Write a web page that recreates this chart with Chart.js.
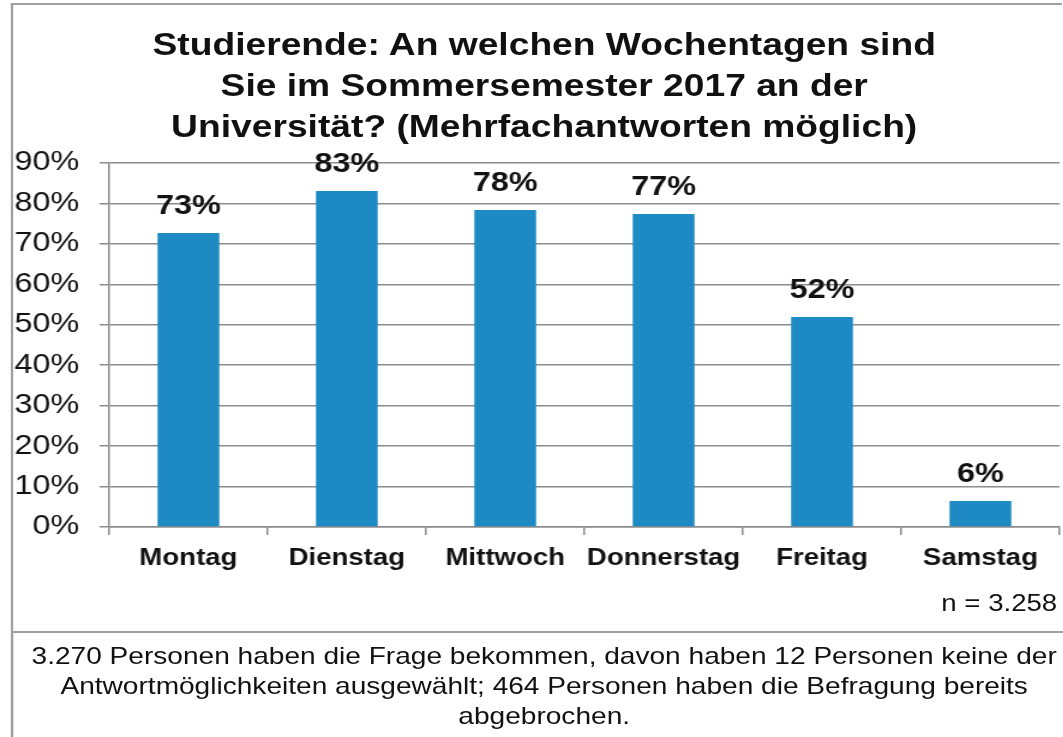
<!DOCTYPE html>
<html>
<head>
<meta charset="utf-8">
<script src="https://cdn.jsdelivr.net/npm/chart.js@4"></script>
<style>
  body { margin: 0; background: #fff; overflow: hidden; }
  /* the reference is stretched sideways, so draw narrow and scale it */
  #page { position: absolute; left: 0; top: 0; width: 886px; height: 737px;
          transform: scaleX(1.2); transform-origin: 0 0; font-family: "Liberation Sans", Arial, sans-serif; }
  #frame { position: absolute; left: 9px; top: 3px; width: 874px; height: 734px;
           border-top: 2px solid #a0a0a0; border-left: 2px solid #a0a0a0; }
  #chartBox { position: absolute; left: 0; top: 0; width: 886px; height: 632px; }
  #title { position: absolute; left: 0; top: 24px; width: 907px; text-align: center;
           font-size: 31px; font-weight: bold; line-height: 41px; color: #111; }
  #nInfo { position: absolute; right: 5px; top: 590px; font-size: 23px; color: #111; }
  #note { position: absolute; left: 9px; top: 631px; width: 877px; height: 106px;
          border-top: 2px solid #a0a0a0; border-left: 2px solid #a0a0a0;
          text-align: center; font-size: 23.4px; line-height: 30px; color: #111;
          padding-top: 8px; padding-left: 10px; box-sizing: border-box; }
</style>
</head>
<body>
<div id="page">
  <div id="frame"></div>
  <div id="chartBox"><canvas id="chart"></canvas></div>
  <div id="title"></div>
  <div id="nInfo">n = 3.258</div>
  <div id="note">3.270 Personen haben die Frage bekommen, davon haben 12 Personen keine der<br>Antwortmöglichkeiten ausgewählt; 464 Personen haben die Befragung bereits<br>abgebrochen.</div>
</div>
<script>
var days = ['Montag', 'Dienstag', 'Mittwoch', 'Donnerstag', 'Freitag', 'Samstag'];
var shares = [72.7, 83.1, 78.4, 77.4, 51.9, 6.4];
var titleLines = [
	'Studierende: An welchen Wochentagen sind',
	'Sie im Sommersemester 2017 an der',
	'Universität? (Mehrfachantworten möglich)'
];
var yMin = 0;
var yMax = 90;
var yStep = 10;

var fontName = '"Liberation Sans", Arial, sans-serif';
var gridGrey = '#8c8c8c';

document.getElementById('title').innerHTML = titleLines.join('<br>');

// prints the rounded share above each bar
var valueLabels = {
	id: 'valueLabels',
	afterDatasetsDraw: function(chart) {
		var ctx = chart.ctx;
		var meta = chart.getDatasetMeta(0);
		ctx.save();
		ctx.font = 'bold 27px ' + fontName;
		ctx.fillStyle = '#111';
		ctx.textAlign = 'center';
		ctx.textBaseline = 'alphabetic';
		meta.data.forEach(function(bar, i) {
			ctx.fillText(Math.round(shares[i]) + '%', bar.x, bar.y - 19);
		});
		ctx.restore();
	}
};

var ctx = document.getElementById('chart');
new Chart(ctx, {
	type: 'bar',
	data: {
		labels: days,
		datasets: [{
			data: shares,
			backgroundColor: '#1e8ac4',
			barPercentage: 0.39,
			categoryPercentage: 1
		}]
	},
	options: {
		responsive: true,
		maintainAspectRatio: false,
		animation: false,
		layout: { padding: { left: 4, right: 3, top: 163, bottom: 0 } },
		plugins: {
			legend: { display: false },
			tooltip: { enabled: false },
			title: { display: false }
		},
		scales: {
			x: {
				grid: { drawOnChartArea: false, drawTicks: true, tickLength: 8, color: gridGrey, lineWidth: 1.5 },
				border: { color: gridGrey, width: 1.5 },
				ticks: {
					color: '#111',
					padding: 10,
					maxRotation: 0,
					minRotation: 0,
					autoSkip: false,
					font: { family: fontName, size: 23, weight: 'bold' }
				},
				afterFit: function(scale) { scale.height = 105; }
			},
			y: {
				min: yMin,
				max: yMax,
				grid: { color: gridGrey, lineWidth: 1.5, tickLength: 8 },
				border: { color: gridGrey, width: 1.5 },
				ticks: {
					stepSize: yStep,
					padding: 17,
					color: '#111',
					font: { family: fontName, size: 27 },
					callback: function(v) { return v + '%'; }
				},
				afterFit: function(scale) { scale.width = 87; }
			}
		}
	},
	plugins: [valueLabels]
});
</script>
</body>
</html>
